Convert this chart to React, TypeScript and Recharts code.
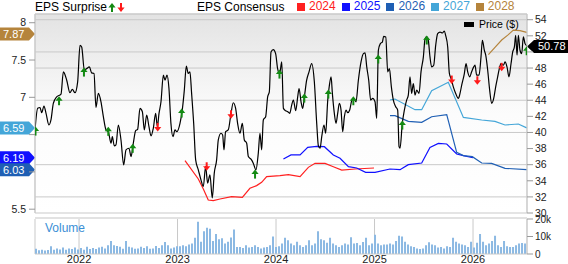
import React from 'react';
import { ComposedChart, BarChart, Bar, Line, Scatter, XAxis, YAxis, CartesianGrid, ReferenceLine } from 'recharts';

const FONT = '"Liberation Sans", Arial, sans-serif';

const YEARS = [2022, 2023, 2024, 2025, 2026];
const T_START = 2021.553;
const T_END = 2026.548;
const PRICE_TICKS = [30, 32, 34, 36, 38, 40, 42, 44, 46, 48, 50, 52, 54];
const EPS_TICKS = [5.5, 6, 6.5, 7, 7.5, 8];
const VOL_TICKS = [0, 5000, 10000, 15000, 20000];
// tick labels hidden behind the value flags
const EPS_HIDDEN = [6, 6.5];
const PRICE_HIDDEN = [50];

// [decimal year, price $]
const price: [number, number][] = [
  [2021.553, 40.3], [2021.58, 43.0], [2021.604, 43.1], [2021.621, 42.45], [2021.644, 43.28], [2021.665, 42.37],
  [2021.695, 40.93], [2021.715, 41.55], [2021.739, 43.61], [2021.773, 44.43], [2021.817, 44.76], [2021.841, 47.53],
  [2021.875, 46.49], [2021.908, 44.93], [2021.932, 45.34], [2021.959, 44.93], [2021.986, 46.29], [2022.01, 50.82],
  [2022.027, 50.62], [2022.054, 47.73], [2022.078, 47.94], [2022.105, 48.14], [2022.128, 47.4], [2022.152, 47.32],
  [2022.172, 43.11], [2022.196, 44.85], [2022.223, 43.81], [2022.247, 41.96], [2022.274, 40.31], [2022.297, 40.1],
  [2022.325, 38.66], [2022.338, 39.48], [2022.358, 38.33], [2022.375, 38.45], [2022.399, 40.93], [2022.426, 39.07],
  [2022.453, 35.98], [2022.477, 37.84], [2022.507, 38.04], [2022.528, 37.01], [2022.551, 38.66], [2022.575, 40.23],
  [2022.595, 40.39], [2022.619, 42.99], [2022.643, 42.58], [2022.663, 40.31], [2022.687, 42.16], [2022.71, 40.72],
  [2022.731, 39.57], [2022.754, 40.52], [2022.778, 42.37], [2022.795, 40.72], [2022.812, 42.37], [2022.832, 43.81],
  [2022.856, 47.11], [2022.873, 46.49], [2022.893, 47.11], [2022.913, 45.46], [2022.933, 41.13], [2022.954, 39.48],
  [2022.974, 40.31], [2022.994, 40.1], [2023.025, 41.13], [2023.048, 42.78], [2023.069, 45.26], [2023.089, 48.23],
  [2023.109, 47.32], [2023.126, 47.53], [2023.143, 44.85], [2023.164, 41.13], [2023.184, 36.6], [2023.211, 35.36],
  [2023.238, 34.12], [2023.262, 33.3], [2023.285, 35.77], [2023.306, 33.71], [2023.329, 34.74], [2023.353, 31.86],
  [2023.373, 34.95], [2023.397, 36.6], [2023.414, 39.07], [2023.441, 39.9], [2023.458, 39.69], [2023.472, 37.84],
  [2023.488, 40.1], [2023.515, 40.31], [2023.543, 42.37], [2023.566, 43.69], [2023.59, 42.99], [2023.61, 41.13],
  [2023.634, 39.9], [2023.658, 41.13], [2023.678, 39.07], [2023.702, 38.66], [2023.719, 37.01], [2023.746, 36.68],
  [2023.769, 36.19], [2023.796, 35.36], [2023.82, 37.42], [2023.837, 39.9], [2023.854, 37.84], [2023.871, 41.55],
  [2023.895, 41.96], [2023.915, 44.43], [2023.932, 45.05], [2023.949, 50.0], [2023.972, 50.29], [2023.996, 49.79],
  [2024.016, 47.94], [2024.037, 47.32], [2024.058, 48.76], [2024.075, 42.99], [2024.098, 42.7], [2024.119, 42.58],
  [2024.139, 42.37], [2024.159, 43.4], [2024.176, 44.02], [2024.2, 42.7], [2024.22, 44.43], [2024.234, 45.46],
  [2024.254, 43.81], [2024.271, 42.99], [2024.288, 44.43], [2024.311, 46.49], [2024.335, 47.53], [2024.362, 48.56],
  [2024.389, 46.29], [2024.413, 41.13], [2024.43, 38.33], [2024.447, 38.04], [2024.464, 39.48], [2024.487, 40.93],
  [2024.504, 39.9], [2024.525, 44.02], [2024.542, 45.88], [2024.559, 46.91], [2024.572, 44.85], [2024.592, 42.37],
  [2024.609, 41.13], [2024.626, 42.37], [2024.643, 43.61], [2024.66, 42.78], [2024.677, 40.1], [2024.694, 41.96],
  [2024.711, 42.78], [2024.728, 42.45], [2024.748, 42.78], [2024.768, 43.94], [2024.789, 44.23], [2024.812, 43.81],
  [2024.836, 46.49], [2024.863, 48.76], [2024.887, 49.79], [2024.904, 49.88], [2024.921, 48.14], [2024.941, 46.49],
  [2024.961, 44.02], [2024.982, 44.23], [2025.005, 43.81], [2025.022, 41.75], [2025.039, 50.21], [2025.059, 51.03],
  [2025.08, 51.24], [2025.093, 51.94], [2025.114, 51.86], [2025.134, 47.53], [2025.151, 47.94], [2025.171, 45.67],
  [2025.191, 44.02], [2025.215, 43.2], [2025.235, 42.78], [2025.249, 38.25], [2025.259, 38.04], [2025.282, 41.13],
  [2025.303, 42.78], [2025.326, 44.02], [2025.343, 44.64], [2025.36, 46.91], [2025.377, 44.85], [2025.394, 46.08],
  [2025.411, 44.64], [2025.428, 45.26], [2025.452, 44.85], [2025.472, 47.53], [2025.496, 49.38], [2025.513, 51.65],
  [2025.529, 51.86], [2025.546, 51.44], [2025.563, 49.38], [2025.58, 48.14], [2025.601, 48.35], [2025.621, 50.82],
  [2025.641, 52.27], [2025.665, 52.47], [2025.689, 52.35], [2025.709, 52.6], [2025.722, 52.06], [2025.743, 50.62],
  [2025.76, 47.32], [2025.777, 46.7], [2025.8, 45.67], [2025.824, 44.85], [2025.851, 44.23], [2025.868, 44.85],
  [2025.885, 45.88], [2025.912, 47.32], [2025.929, 48.56], [2025.946, 47.53], [2025.966, 46.91], [2025.986, 47.53],
  [2026.007, 48.14], [2026.02, 48.35], [2026.037, 47.11], [2026.061, 47.11], [2026.081, 49.38], [2026.095, 51.44],
  [2026.115, 50.21], [2026.129, 49.59], [2026.149, 47.73], [2026.169, 45.26], [2026.189, 43.61], [2026.21, 44.23],
  [2026.23, 45.67], [2026.25, 46.91], [2026.267, 47.94], [2026.284, 48.56], [2026.308, 48.35], [2026.325, 48.76],
  [2026.345, 48.14], [2026.365, 46.91], [2026.386, 48.56], [2026.403, 50.0], [2026.42, 50.62], [2026.433, 52.06],
  [2026.447, 49.59], [2026.46, 52.06], [2026.477, 50.21], [2026.494, 49.79], [2026.511, 51.86], [2026.528, 51.03],
  [2026.545, 50.78],
];

// consensus EPS by fiscal year: [decimal year, eps]
const eps2024: [number, number][] = [
  [2023.076, 6.15], [2023.211, 5.905], [2023.262, 5.771], [2023.312, 5.623], [2023.363, 5.614], [2023.431, 5.637],
  [2023.549, 5.668], [2023.658, 5.659], [2023.735, 5.78], [2023.803, 5.816], [2023.854, 5.86], [2023.905, 5.936],
  [2024.04, 5.95], [2024.125, 5.963], [2024.244, 5.936], [2024.328, 6.061], [2024.396, 6.115], [2024.498, 6.115],
  [2024.582, 6.07], [2024.667, 6.025], [2024.802, 6.039], [2024.995, 6.052],
];
const eps2025: [number, number][] = [
  [2024.075, 6.173], [2024.152, 6.227], [2024.244, 6.227], [2024.322, 6.329], [2024.413, 6.343], [2024.491, 6.338],
  [2024.582, 6.227], [2024.65, 6.182], [2024.735, 6.07], [2024.819, 6.052], [2024.91, 5.994], [2025.005, 5.994],
  [2025.157, 6.039], [2025.259, 6.03], [2025.343, 6.097], [2025.479, 6.119], [2025.563, 6.329], [2025.648, 6.383],
  [2025.733, 6.374], [2025.834, 6.24], [2025.902, 6.218], [2026.0, 6.19],
];
const eps2026: [number, number][] = [
  [2025.157, 6.754], [2025.208, 6.754], [2025.343, 6.678], [2025.479, 6.664], [2025.58, 6.74], [2025.733, 6.767],
  [2025.834, 6.262], [2025.902, 6.218], [2025.993, 6.204], [2026.088, 6.119], [2026.189, 6.115], [2026.325, 6.048],
  [2026.545, 6.03],
];
const eps2027: [number, number][] = [
  [2025.157, 6.964], [2025.208, 6.977], [2025.411, 6.834], [2025.479, 6.834], [2025.58, 7.089], [2025.749, 7.201],
  [2025.902, 6.731], [2026.088, 6.696], [2026.223, 6.678], [2026.325, 6.629], [2026.46, 6.642], [2026.545, 6.59],
];
const eps2028: [number, number][] = [
  [2026.156, 7.571], [2026.223, 7.67], [2026.291, 7.768], [2026.359, 7.84], [2026.409, 7.902], [2026.477, 7.893],
  [2026.545, 7.87],
];

// EPS surprises: [decimal year, price at marker, beat?]
const surprises: [number, number, boolean][] = [
  [2021.558, 40.17, true], [2021.797, 43.94, true], [2022.05, 47.5, true], [2022.297, 40.14, true],
  [2022.545, 38.03, true], [2022.799, 40.63, false], [2023.042, 42.41, true], [2023.296, 35.74, false],
  [2023.543, 42.2, false], [2023.787, 34.83, true], [2024.035, 47.25, true], [2024.287, 44.27, true],
  [2024.531, 44.77, true], [2024.785, 43.94, true], [2025.038, 49.12, true], [2025.282, 40.92, true],
  [2025.53, 51.48, true], [2025.784, 46.51, false], [2026.044, 46.42, false], [2026.291, 48.09, false],
  [2026.545, 50.15, true],
];

// volume in thousands, one bar roughly every 11 days
const VOL_T0 = 2021.558;
const VOL_STEP = 0.03046;
const volumeK = [
  3.0, 2.2, 2.4, 2.0, 2.3, 4.4, 2.5, 3.2, 2.6, 3.7, 2.4, 3.2, 2.8, 3.7, 2.6, 3.4, 2.5, 4.1, 2.8, 3.4,
  2.9, 3.7, 4.1, 3.2, 5.0, 7.4, 5.0, 4.6, 4.1, 3.0, 7.4, 4.1, 3.7, 3.0, 3.2, 4.1, 3.5, 4.4, 3.0, 3.2,
  4.6, 3.5, 5.0, 6.8, 5.0, 3.2, 3.7, 4.4, 4.4, 5.0, 4.4, 5.5, 6.0, 9.3, 18.5, 7.0, 13.0, 15.0, 14.5, 7.5,
  11.5, 8.5, 9.0, 6.0, 7.0, 9.5, 14.0, 4.0, 4.0, 3.5, 5.0, 3.7, 4.0, 5.0, 4.0, 3.2, 3.7, 4.0, 5.0, 10.0,
  4.0, 4.5, 6.0, 9.3, 7.8, 6.0, 5.0, 7.0, 5.0, 4.0, 5.0, 7.8, 5.0, 6.0, 13.0, 8.5, 7.8, 6.5, 9.3, 6.0,
  5.0, 4.0, 5.0, 6.0, 5.5, 9.6, 6.0, 6.3, 5.0, 6.8, 9.3, 5.0, 6.0, 11.0, 6.0, 5.0, 5.4, 5.4, 6.0, 5.4,
  7.4, 10.5, 10.0, 7.0, 5.5, 4.4, 4.0, 3.2, 2.8, 3.2, 5.0, 6.7, 5.5, 5.0, 3.7, 4.0, 3.2, 4.4, 4.0, 9.3,
  7.0, 6.0, 5.5, 5.0, 4.0, 7.0, 3.7, 6.5, 11.5, 7.0, 5.0, 6.0, 7.5, 10.5, 5.0, 4.0, 7.4, 4.4, 4.0, 4.0,
  5.0, 6.0, 6.3, 6.0,
];

const toPts = (arr: [number, number][]) => arr.map(([t, v]) => ({ t, v }));
const priceData = toPts(price);
const surpriseData = surprises.map(([t, v, beat]) => ({ t, v, beat }));
const volumeData = volumeK.map((k, i) => ({ t: VOL_T0 + i * VOL_STEP, v: k * 1000 }));

const GREEN = '#138a13';
const RED = '#ff1a1a';
const C2024 = '#ff2020';
const C2025 = '#1010ff';
const C2026 = '#1f5fb4';
const C2027 = '#44a6d8';
const C2028 = '#b5843c';

const SurpriseArrow = (props: any) => {
  const { cx, cy, payload } = props;
  if (cx == null || cy == null) return null;
  if (payload.beat) {
    return (
      <g fill={GREEN}>
        <polygon points={`${cx},${cy - 4.5} ${cx + 3.6},${cy} ${cx - 3.6},${cy}`} />
        <rect x={cx - 1} y={cy - 0.5} width={2} height={5} />
      </g>
    );
  }
  return (
    <g fill={RED}>
      <rect x={cx - 1} y={cy - 4.5} width={2} height={5} />
      <polygon points={`${cx - 3.6},${cy - 0.5} ${cx + 3.6},${cy - 0.5} ${cx},${cy + 4}`} />
    </g>
  );
};

const LeftFlag = (props: any) => {
  const { viewBox, text, color, shift = 0 } = props;
  if (!viewBox) return null;
  const tip = viewBox.x;
  const y = viewBox.y + shift;
  return (
    <g>
      <polygon
        points={`${tip - 35},${y - 6.5} ${tip - 6},${y - 6.5} ${tip},${y} ${tip - 6},${y + 6.5} ${tip - 35},${y + 6.5}`}
        fill={color}
      />
      <text x={tip - 32} y={y + 4} fill="#fff" fontSize={11} fontFamily={FONT}>{text}</text>
    </g>
  );
};

const RightFlag = (props: any) => {
  const { viewBox, text } = props;
  if (!viewBox) return null;
  const tip = viewBox.x + viewBox.width;
  const y = viewBox.y + 0.8;
  return (
    <g>
      <polygon
        points={`${tip},${y} ${tip + 7},${y - 6.5} ${tip + 41},${y - 6.5} ${tip + 41},${y + 6.5} ${tip + 7},${y + 6.5}`}
        fill="#000"
      />
      <text x={tip + 11} y={y + 4} fill="#fff" fontSize={11} fontFamily={FONT}>{text}</text>
    </g>
  );
};

const UpIcon = ({ color }: { color: string }) => (
  <svg width="8" height="9" style={{ display: 'inline-block', verticalAlign: 'top', marginTop: 2 }}>
    <polygon points="4,0 7.6,4.5 0.4,4.5" fill={color} />
    <rect x="3" y="4" width="2" height="5" fill={color} />
  </svg>
);
const DownIcon = ({ color }: { color: string }) => (
  <svg width="8" height="9" style={{ display: 'inline-block', verticalAlign: 'top', marginTop: 2 }}>
    <rect x="3" y="0" width="2" height="5" fill={color} />
    <polygon points="0.4,4.5 7.6,4.5 4,9" fill={color} />
  </svg>
);

const legendYears = [
  { label: '2024', color: C2024 },
  { label: '2025', color: C2025 },
  { label: '2026', color: C2026 },
  { label: '2027', color: C2027 },
  { label: '2028', color: C2028 },
];

const tickStyle = { fontSize: 10.5, fill: '#222', fontFamily: FONT };

export default function App() {
  return (
    <div style={{ position: 'relative', width: 568, height: 264, background: '#fff', fontFamily: FONT, overflow: 'hidden' }}>
      <style>{'body{margin:0}'}</style>

      <div style={{ position: 'absolute', left: 35, top: 1, fontSize: 12, lineHeight: '13px', color: '#000', whiteSpace: 'nowrap' }}>
        EPS Surprise
        <span style={{ marginLeft: 1 }}><UpIcon color={GREEN} /></span>
        <span style={{ marginLeft: 1 }}><DownIcon color={RED} /></span>
      </div>
      <div style={{ position: 'absolute', left: 197, top: 1, fontSize: 12, lineHeight: '13px', color: '#000', whiteSpace: 'nowrap' }}>
        EPS Consensus
      </div>
      <div style={{ position: 'absolute', left: 297, top: 0, display: 'flex', fontSize: 12, lineHeight: '13px', whiteSpace: 'nowrap' }}>
        {legendYears.map((y) => (
          <span key={y.label} style={{ display: 'flex', alignItems: 'center', marginRight: 6, color: y.color }}>
            <span style={{ width: 8, height: 8, background: y.color, marginRight: 4, display: 'inline-block' }} />
            {y.label}
          </span>
        ))}
      </div>

      <div style={{ position: 'absolute', left: 0, top: 0 }}>
        <ComposedChart width={568} height={219} margin={{ top: 14, right: 0, bottom: 6, left: 0 }}>
          <defs>
            <linearGradient id="plotBg" x1="0" y1="0" x2="0" y2="1">
              <stop offset="0" stopColor="#e3e3e3" />
              <stop offset="0.5" stopColor="#fcfcfc" />
              <stop offset="1" stopColor="#ffffff" />
            </linearGradient>
          </defs>
          <CartesianGrid yAxisId="price" fill="url(#plotBg)" stroke="#c9c9c9" />
          <XAxis
            dataKey="t"
            type="number"
            domain={[T_START, T_END]}
            ticks={YEARS}
            allowDataOverflow
            height={0}
            tick={false}
            tickLine={false}
            axisLine={false}
          />
          <YAxis
            yAxisId="eps"
            orientation="left"
            width={35}
            type="number"
            domain={[5.449, 8.117]}
            ticks={EPS_TICKS}
            allowDataOverflow
            tick={tickStyle}
            tickSize={6}
            tickMargin={3}
            tickLine={{ stroke: '#999' }}
            axisLine={{ stroke: '#c9c9c9' }}
            tickFormatter={(v: number) => (EPS_HIDDEN.includes(v) ? '' : String(v))}
          />
          <YAxis
            yAxisId="price"
            orientation="right"
            width={41}
            type="number"
            domain={[30, 54.71]}
            ticks={PRICE_TICKS}
            allowDataOverflow
            tick={tickStyle}
            tickSize={6}
            tickMargin={2}
            tickLine={{ stroke: '#999' }}
            axisLine={{ stroke: '#c9c9c9' }}
            tickFormatter={(v: number) => (PRICE_HIDDEN.includes(v) ? '' : String(v))}
          />
          <ReferenceLine yAxisId="price" y={54.71} stroke="#c9c9c9" />

          <Line yAxisId="eps" data={toPts(eps2024)} dataKey="v" type="linear" stroke={C2024} strokeWidth={1.2} dot={false} isAnimationActive={false} />
          <Line yAxisId="eps" data={toPts(eps2025)} dataKey="v" type="linear" stroke={C2025} strokeWidth={1.2} dot={false} isAnimationActive={false} />
          <Line yAxisId="eps" data={toPts(eps2026)} dataKey="v" type="linear" stroke={C2026} strokeWidth={1.2} dot={false} isAnimationActive={false} />
          <Line yAxisId="eps" data={toPts(eps2027)} dataKey="v" type="linear" stroke={C2027} strokeWidth={1.2} dot={false} isAnimationActive={false} />
          <Line yAxisId="eps" data={toPts(eps2028)} dataKey="v" type="linear" stroke={C2028} strokeWidth={1.2} dot={false} isAnimationActive={false} />
          <Line yAxisId="price" data={priceData} dataKey="v" type="monotone" stroke="#000" strokeWidth={1.2} dot={false} isAnimationActive={false} />
          <Scatter yAxisId="price" data={surpriseData} dataKey="v" shape={(p: any) => <SurpriseArrow {...p} />} isAnimationActive={false} />

          <ReferenceLine yAxisId="eps" y={7.87} stroke="none" label={(p: any) => <LeftFlag {...p} text="7.87" color={C2028} shift={1.5} />} />
          <ReferenceLine yAxisId="eps" y={6.59} stroke="none" label={(p: any) => <LeftFlag {...p} text="6.59" color={C2027} />} />
          <ReferenceLine yAxisId="eps" y={6.19} stroke="none" label={(p: any) => <LeftFlag {...p} text="6.19" color={C2025} />} />
          <ReferenceLine yAxisId="eps" y={6.03} stroke="none" label={(p: any) => <LeftFlag {...p} text="6.03" color={C2026} />} />
          <ReferenceLine yAxisId="price" y={50.78} stroke="none" label={(p: any) => <RightFlag {...p} text="50.78" />} />
        </ComposedChart>
      </div>

      <div style={{ position: 'absolute', left: 464, top: 22, width: 10, height: 5, background: '#000' }} />
      <div style={{ position: 'absolute', left: 479, top: 19, fontSize: 10.5, lineHeight: '11px', color: '#000' }}>Price ($)</div>

      <div style={{ position: 'absolute', left: 35, top: 216.5, width: 492, height: 2.5, background: '#e2e2e2' }} />

      <div style={{ position: 'absolute', left: 0, top: 214 }}>
        <BarChart width={568} height={50} data={volumeData} margin={{ top: 5, right: 0, bottom: 0, left: 35 }}>
          <CartesianGrid horizontal={false} stroke="#c9c9c9" />
          <XAxis
            dataKey="t"
            type="number"
            domain={[T_START, T_END]}
            ticks={YEARS}
            allowDataOverflow
            height={10}
            tick={{ ...tickStyle, fontSize: 11 }}
            tickSize={0}
            tickMargin={1}
            tickLine={false}
            axisLine={{ stroke: '#c9c9c9' }}
            interval={0}
          />
          <YAxis
            orientation="right"
            width={41}
            type="number"
            domain={[0, 20000]}
            ticks={VOL_TICKS}
            tick={{ ...tickStyle, fontSize: 10 }}
            tickSize={6}
            tickMargin={2}
            tickLine={{ stroke: '#999' }}
            axisLine={{ stroke: '#c9c9c9' }}
            tickFormatter={(v: number) => (v === 0 ? '0' : `${v / 1000}k`)}
          />
          <Bar dataKey="v" fill="#8cb9e3" barSize={2} isAnimationActive={false} />
        </BarChart>
      </div>

      <div style={{ position: 'absolute', left: 45, top: 222, fontSize: 12, lineHeight: '12px', color: '#3b8fd6' }}>Volume</div>
    </div>
  );
}
